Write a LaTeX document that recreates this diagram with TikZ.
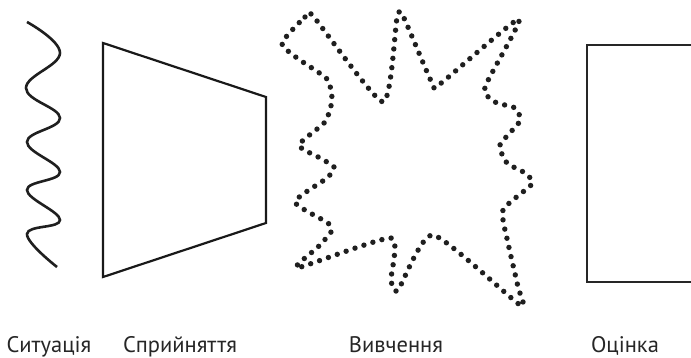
\documentclass[tikz,border=0pt]{standalone}
\usepackage{fontspec}
\setmainfont{PT Sans}
\begin{document}
\begin{tikzpicture}[x=1pt,y=-1pt,
  wave/.style={line width=2.6pt, color=black!88},
  outline/.style={line width=2.2pt, color=black!90, line join=miter},
  dots/.style={line width=5.4pt, line cap=round, dash pattern=on 0pt off 9.4pt, color=black!88},
  label/.style={font=\fontsize{22.5}{24}\selectfont, anchor=base, inner sep=0pt, text=black!85}]
\useasboundingbox (0,0) rectangle (691,358);
\clip (0,0) rectangle (691,358);
% wave
\draw[wave] plot[smooth, tension=0.7] coordinates {(27,22) (60,53) (26,88) (60,118) (27,142) (60,172) (27,190) (60,220) (27,234) (57,267)};
% trapezoid
\draw[outline] (103,43) coordinate (t1) -- (266,97) coordinate (t2) -- (266,223) coordinate (t3) -- (103,277) coordinate (t4) -- cycle;
% dotted star
\draw[dots] plot[smooth cycle, tension=0.35] coordinates {
 (282,43) (305,17) (313,16) (383,102) (397,18) (403,16) (432,83) (440,84) (519,19)
 (485,87) (495,102) (515,108) (520,121) (500,145) (507,163) (525,173) (532,184)
 (503,210) (508,243) (518,287) (520,305) (433,235) (398,290) (391,280) (391,238)
 (297,268) (318,247) (331,232) (328,223) (295,202) (327,178) (334,167) (320,158)
 (299,145) (325,122) (332,100) (327,79) (297,58)};
% rectangle
\draw[line width=2.6pt, color=black!85] (587,45) coordinate (r1) rectangle (700,282) coordinate (r2);
% labels
\node[label] (l1) at (49,352) {Ситуація};
\node[label] (l2) at (180,352) {Сприйняття};
\node[label] (l3) at (396,352) {Вивчення};
\node[label] (l4) at (625,352) {Оцінка};
\end{tikzpicture}
\end{document}
